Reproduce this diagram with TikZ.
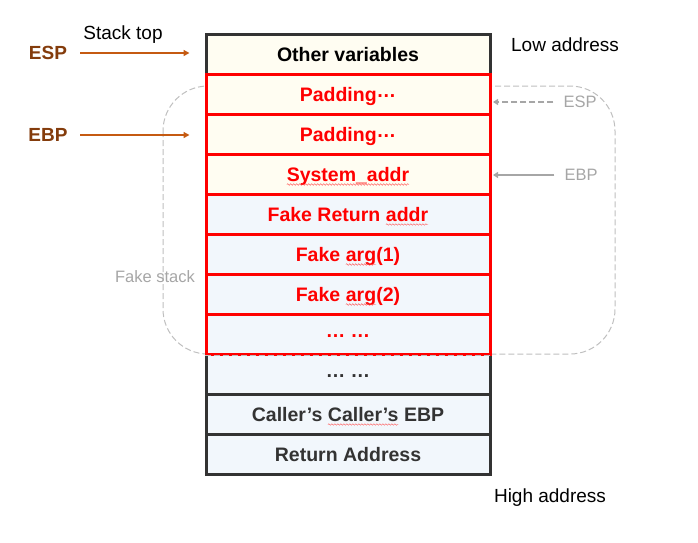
\documentclass[tikz,border=0pt]{standalone}
\usepackage{fontspec}
\setmainfont{Liberation Sans}
\usetikzlibrary{arrows.meta,decorations.pathmorphing}
\definecolor{ivory}{HTML}{FFFDF2}
\definecolor{lblue}{HTML}{F2F7FC}
\definecolor{dark}{HTML}{333333}
\definecolor{brn}{HTML}{843C0C}
\definecolor{org}{HTML}{C55A11}
\definecolor{gtxt}{HTML}{A6A6A6}
\definecolor{gline}{HTML}{BFBFBF}
\newcommand{\mdots}{\raisebox{0.2em}{…}}
\newcommand{\squig}[1]{\tikz[baseline=(sqw.base)]{\node[inner sep=0pt,outer sep=0pt,minimum width=0pt,minimum height=0pt,draw=none,fill=none,line width=0.4pt,text height=,text depth=] (sqw) {#1};
  \draw[red!70, line width=0.4pt, decorate, decoration={snake, amplitude=0.8pt, segment length=3pt}] ([yshift=-3.5pt]sqw.base west) -- ([yshift=-3.5pt]sqw.base east);}}
\tikzset{
  cell/.style={draw, line width=3pt, minimum width=284pt, minimum height=40pt, inner sep=0pt, text height=14pt, text depth=0pt, font=\fontsize{19.5}{22}\selectfont\bfseries},
  darkcell/.style={cell, draw=dark, text=dark},
  redcell/.style={cell, draw=red, text=red},
  lbl/.style={font=\fontsize{19}{22}\selectfont, inner sep=0pt},
  glbl/.style={font=\fontsize{16.5}{19}\selectfont, text=gtxt, inner sep=0pt},
  reg/.style={font=\fontsize{19}{22}\selectfont\bfseries, text=brn, inner sep=0pt},
  oarrow/.style={draw=org, line width=1.5pt, -{Triangle[length=6pt,width=6pt]}},
  garrow/.style={draw=gtxt, line width=1.5pt, -{Triangle[length=5pt,width=6pt]}},
}
\begin{document}
\begin{tikzpicture}[x=1pt,y=-1pt]
\useasboundingbox (0,0) rectangle (698,542);
% fake stack frame
\draw[gline, dash pattern=on 6pt off 3pt, line width=1pt, rounded corners=45pt] (163,86) rectangle (615,354);
% dark rows
\node[darkcell, fill=ivory, text=black] (r1) at (348,54) {Other variables};
\node[darkcell, fill=lblue] (r9) at (348,374) {\mdots\ \mdots};
\node[darkcell, fill=lblue] (r10) at (348,414) {Caller’s \squig{Caller’s} EBP};
\node[darkcell, fill=lblue] (r11) at (348,454) {Return Address};
% red rows
\node[redcell, fill=ivory] (r2) at (348,94) {Padding\mdots};
\node[redcell, fill=ivory] (r3) at (348,134) {Padding\mdots};
\node[redcell, fill=ivory] (r4) at (348,174) {\squig{System\_addr}};
\node[redcell, fill=lblue] (r5) at (348,214) {Fake Return \squig{addr}};
\node[redcell, fill=lblue] (r6) at (348,254) {Fake \squig{arg}(1)};
\node[redcell, fill=lblue] (r7) at (348,294) {Fake \squig{arg}(2)};
\node[redcell, fill=lblue] (r8) at (348,334) {\mdots\ \mdots};
\draw[gline, dash pattern=on 6pt off 3pt, line width=1pt] (r8.south west) -- (r8.south east);
% left labels
\node[reg] (esp) at (48,53) {ESP};
\node[reg] (ebp) at (48,135) {EBP};
\node[lbl] (top) at (123,35) {Stack top};
\coordinate (espS) at (80,53);
\coordinate (ebpS) at (80,135);
\draw[oarrow] (espS) -- ([xshift=-15pt]r1.west |- espS);
\draw[oarrow] (ebpS) -- ([xshift=-15pt]r3.west |- ebpS);
% right labels
\node[lbl] (low) at (565,45) {Low address};
\node[lbl] (high) at (550,498) {High address};
\node[glbl] (fs) at (155,277) {Fake stack};
\node[glbl] (gesp) at (580,102) {ESP};
\node[glbl] (gebp) at (581,175) {EBP};
\draw[garrow, dash pattern=on 6pt off 3pt] ([xshift=-10pt]gesp.west) -- ([xshift=1.5pt]r2.east |- gesp.west);
\draw[garrow] ([xshift=-10pt]gebp.west) -- ([xshift=1.5pt]r4.east |- gebp.west);
\end{tikzpicture}
\end{document}
